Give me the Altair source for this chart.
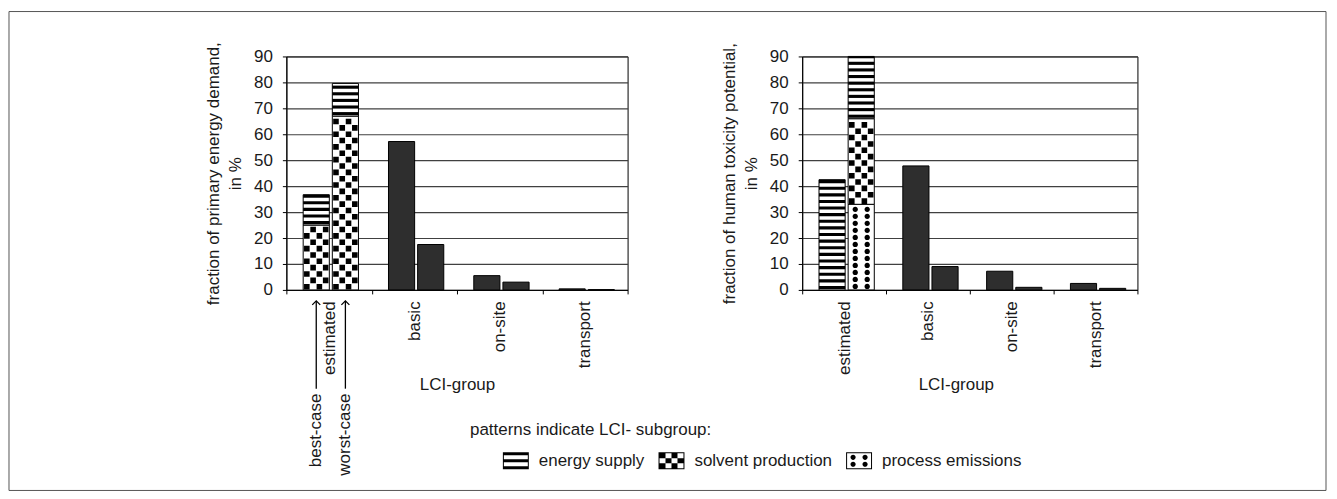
import altair as alt
import pandas as pd

# ---------------- data ----------------
categories = ["estimated", "basic", "on-site", "transport"]
bar_keys = ["a", "b"]
case_labels = ["best-case", "worst-case"]
subgroups = ["energy supply", "solvent production", "process emissions"]

# left panel: fraction of primary energy demand, in %
ped_est_solvent = [25.0, 67.0]
ped_est_energy = [11.7, 12.6]
ped_basic = [57.2, 17.5]
ped_onsite = [5.5, 3.0]
ped_transport = [0.4, 0.1]

# right panel: fraction of human toxicity potential, in %
htp_est_process = [0.0, 33.0]
htp_est_solvent = [0.0, 33.0]
htp_est_energy = [42.5, 24.0]
htp_basic = [47.8, 9.0]
htp_onsite = [7.2, 1.0]
htp_transport = [2.5, 0.6]

y_ticks = [0, 10, 20, 30, 40, 50, 60, 70, 80, 90]

FONT = "Liberation Sans"
FS = 17
INK = "#1a1a1a"
H = 234


def build(est_parts, others):
    rows = []
    for order, (sub, vals) in enumerate(est_parts):
        for b, v in zip(bar_keys, vals):
            if v > 0:
                rows.append({"category": "estimated", "bar": b, "subgroup": sub,
                             "value": v, "order": order})
    for cat, vals in zip(categories[1:], others):
        for b, v in zip(bar_keys, vals):
            rows.append({"category": cat, "bar": b, "subgroup": "total",
                         "value": v, "order": 0})
    return pd.DataFrame(rows)


left_df = build([("solvent production", ped_est_solvent),
                 ("energy supply", ped_est_energy)],
                [ped_basic, ped_onsite, ped_transport])
right_df = build([("process emissions", htp_est_process),
                  ("solvent production", htp_est_solvent),
                  ("energy supply", htp_est_energy)],
                 [htp_basic, htp_onsite, htp_transport])
ann_df = pd.DataFrame({"category": ["estimated", "estimated"], "bar": bar_keys,
                       "label": case_labels})
one = pd.DataFrame({"k": [0]})


# ---------------- pattern glyphs ----------------
def rect_d(x0, y0, x1, y1, s=1.0):
    return f"M{x0/s:.3f},{y0/s:.3f}H{x1/s:.3f}V{y1/s:.3f}H{x0/s:.3f}Z"


def circle_d(cx, cy, r, s=1.0):
    a, b, rr, c = (cx - r) / s, (cx + r) / s, r / s, cy / s
    return (f"M{a:.3f},{c:.3f}A{rr:.3f},{rr:.3f} 0 1,0 {b:.3f},{c:.3f}"
            f"A{rr:.3f},{rr:.3f} 0 1,0 {a:.3f},{c:.3f}Z")


COLW = 6.3
HS = 2.8
col_c = [(c - 1.5) * COLW for c in range(4)]
CHECK_EVEN = "".join(rect_d(col_c[c] - HS, -HS, col_c[c] + HS, HS) for c in (0, 2))
CHECK_ODD = "".join(rect_d(col_c[c] - HS, -HS, col_c[c] + HS, HS) for c in (1, 3))
DOTS = circle_d(-6, 0, 2.7) + circle_d(6, 0, 2.7)
ARROW = "M-1,0L0,-1L1,0"

S = 13.0
border = (rect_d(-13, -8.5, 13, -7.5, S) + rect_d(-13, 7.5, 13, 8.5, S)
          + rect_d(-13, -8.5, -12, 8.5, S) + rect_d(12, -8.5, 13, 8.5, S))
LEG_ENERGY = (rect_d(-13, -8.5, -12, 8.5, S) + rect_d(12, -8.5, 13, 8.5, S)
              + rect_d(-13, -8.5, 13, -5.5, S) + rect_d(-13, -1.5, 13, 1.5, S)
              + rect_d(-13, 5.5, 13, 8.5, S))
LEG_SOLVENT = border + "".join(
    rect_d(-12 + 6 * c, -7.5 + 5 * r, -6 + 6 * c, -2.5 + 5 * r, S)
    for r in range(3) for c in range(4) if (r + c) % 2 == 0)
LEG_PROCESS = border + "".join(circle_d(x, y, 2.6, S) for x in (-6, 6) for y in (-3.5, 3.5))

STRIPE_STEP = 2.55
STRIPE_W = 1.2
CHECK = 2.45
DOT = 2.7

x_scale = alt.Scale(domain=categories, paddingInner=0, paddingOuter=0)
off_scale = alt.Scale(domain=bar_keys, paddingInner=0.103, paddingOuter=0.515, align=0.56)
y_scale = alt.Scale(domain=[0, 90], nice=False)


def xo():
    return alt.XOffset("bar:N", scale=off_scale)


def panel(df, width, ytitle, title_x, extra=()):
    x_axis = alt.Axis(labelAngle=270, labelPadding=7, tickSize=4,
                      tickBand="extent", grid=False,
                      titleX=title_x, titleY=87, titleAlign="center",
                      titleBaseline="top")
    y_axis = alt.Axis(values=y_ticks, grid=True, tickSize=4, labelPadding=10,
                      titlePadding=9, titleLineHeight=22)

    def xenc():
        return alt.X("category:N", scale=x_scale, title="LCI-group", axis=x_axis)

    def yenc(f):
        return alt.Y(f, scale=y_scale, title=ytitle, axis=y_axis)

    base = alt.Chart(df).transform_filter("datum.value > 0").transform_stack(
        stack="value", groupby=["category", "bar"], as_=["y0", "y1"],
        sort=[alt.SortField("order", order="ascending")])

    bars = base.mark_bar(stroke="black", strokeWidth=1).encode(
        x=xenc(), xOffset=xo(), y=yenc("y1:Q"), y2="y0:Q",
        fill=alt.when(alt.datum.subgroup == "total")
        .then(alt.value("#2e2e2e")).otherwise(alt.value("white")),
    )

    stripes = base.transform_filter("datum.subgroup == 'energy supply'").transform_calculate(
        s=f"sequence(datum.y0 + 0.35, datum.y1 - 0.5, {STRIPE_STEP})"
    ).transform_flatten(["s"]).transform_calculate(
        s2=f"min(datum.s + {STRIPE_W}, datum.y1)"
    ).mark_bar(color="black").encode(x=xenc(), xOffset=xo(), y=yenc("s:Q"), y2="s2:Q")

    chk = base.transform_filter("datum.subgroup == 'solvent production'").transform_calculate(
        r=f"sequence(0, floor((datum.y1 - datum.y0) / {CHECK}))"
    ).transform_flatten(["r"]).transform_calculate(
        yc=f"datum.y0 + (datum.r + 0.5) * {CHECK}")
    chk_even = chk.transform_filter("datum.r % 2 == 0").mark_point(
        shape=CHECK_EVEN, size=4, filled=True, color="black", opacity=1, strokeWidth=0
    ).encode(x=xenc(), xOffset=xo(), y=yenc("yc:Q"))
    chk_odd = chk.transform_filter("datum.r % 2 == 1").mark_point(
        shape=CHECK_ODD, size=4, filled=True, color="black", opacity=1, strokeWidth=0
    ).encode(x=xenc(), xOffset=xo(), y=yenc("yc:Q"))

    dots = base.transform_filter("datum.subgroup == 'process emissions'").transform_calculate(
        r=f"sequence(0, floor((datum.y1 - datum.y0) / {DOT}))"
    ).transform_flatten(["r"]).transform_calculate(
        yc=f"datum.y0 + (datum.r + 0.5) * {DOT}"
    ).mark_point(shape=DOTS, size=4, filled=True, color="black", opacity=1, strokeWidth=0
                 ).encode(x=xenc(), xOffset=xo(), y=yenc("yc:Q"))

    ann = []
    if extra:
        arrow_lines = alt.Chart(ann_df).mark_rule(color="black", strokeWidth=1.3).encode(
            x=xenc(), xOffset=xo(), y=alt.value(H + 11), y2=alt.value(H + 99))
        arrow_heads = alt.Chart(ann_df).mark_point(
            shape=ARROW, size=64, filled=False, color="black", opacity=1, strokeWidth=1.3
        ).encode(x=xenc(), xOffset=xo(), y=alt.value(H + 15))
        case_text = alt.Chart(ann_df).mark_text(
            angle=270, align="right", baseline="middle", font=FONT, fontSize=FS, color=INK
        ).encode(x=xenc(), xOffset=xo(), y=alt.value(H + 104), text="label:N")
        ann = [arrow_lines, arrow_heads, case_text]

    layers = list(extra[:1]) + [bars, stripes, chk_even, chk_odd, dots] + ann + list(extra[1:])
    return alt.layer(*layers).properties(width=width, height=H)


# ---------------- decorations of left panel ----------------
frame = alt.Chart(one).mark_rect(filled=False, color="#555555", strokeWidth=1).encode(
    x=alt.value(-278), x2=alt.value(1042), y=alt.value(-45), y2=alt.value(435))

legend_title = alt.Chart(one).mark_text(
    align="left", baseline="top", font=FONT, fontSize=FS, color=INK
).encode(x=alt.value(184), y=alt.value(366),
         text=alt.value("patterns indicate LCI- subgroup:"))

legend_layer = alt.Chart(pd.DataFrame({"subgroup": subgroups})).mark_point(
    filled=True, color="black", opacity=0, size=676
).encode(
    x=alt.value(0), y=alt.value(0),
    shape=alt.Shape("subgroup:N",
                    scale=alt.Scale(domain=subgroups,
                                    range=[LEG_ENERGY, LEG_SOLVENT, LEG_PROCESS]),
                    legend=alt.Legend(orient="none", legendX=217, legendY=392,
                                      direction="horizontal", columns=3, title=None,
                                      symbolSize=676, symbolFillColor="black",
                                      symbolStrokeWidth=0, symbolOpacity=1,
                                      labelFont=FONT, labelFontSize=FS, labelColor=INK,
                                      labelOffset=10, columnPadding=14, padding=0)),
)

left = panel(left_df, 342, ["fraction of primary energy demand,", "in %"], 171,
             extra=(frame, legend_title, legend_layer))
right = panel(right_df, 336, ["fraction of human toxicity potential,", "in %"], 154)

chart = alt.hconcat(left, right, spacing=175, bounds="flush").properties(
    padding={"left": 0, "top": 2, "right": 2, "bottom": 0},
    background="white",
).configure(font=FONT).configure_view(
    stroke="black", strokeWidth=1
).configure_axis(
    labelFont=FONT, labelFontSize=FS, labelColor=INK,
    titleFont=FONT, titleFontSize=FS, titleFontWeight="normal", titleColor=INK,
    domainColor="black", tickColor="black", gridColor="#404040", gridWidth=1.2,
)

chart.save("out.html", embed_options={"renderer": "svg", "actions": False})
